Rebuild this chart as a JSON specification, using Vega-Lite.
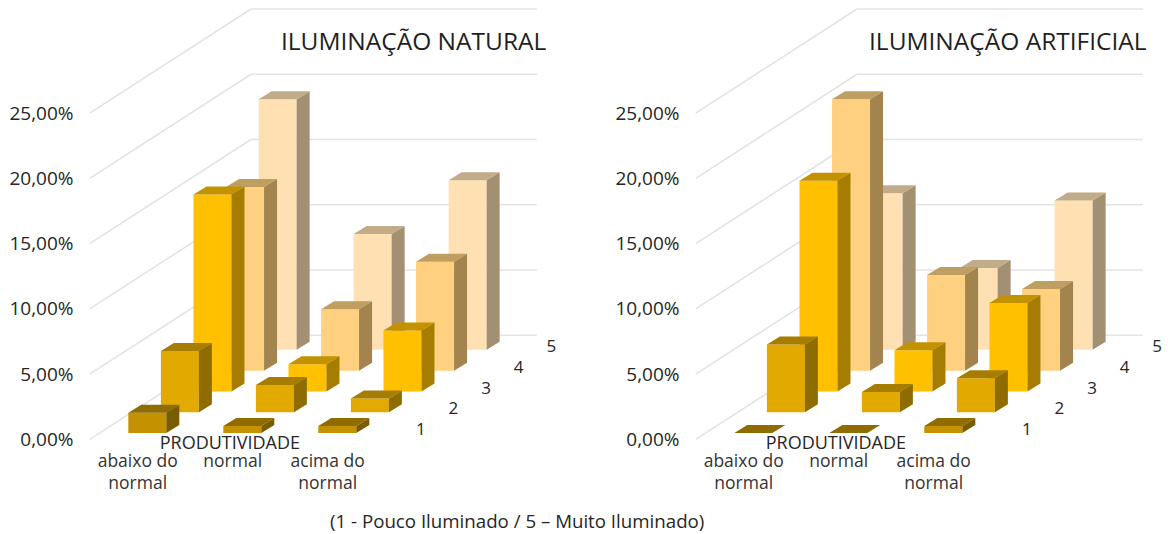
{"$schema":"https://vega.github.io/schema/vega-lite/v6.json","background":"white","padding":{"left":8,"top":0,"right":0,"bottom":0},"spacing":0,"bounds":"flush","config":{"view":{"stroke":null},"text":{"font":"Open Sans"},"axis":{"labelFont":"Open Sans"}},
"datasets":{
"barras":[
{"painel":"natural","produtividade":"abaixo do normal","nivel":5,"valor":19.2},{"painel":"natural","produtividade":"normal","nivel":5,"valor":8.87},{"painel":"natural","produtividade":"acima do normal","nivel":5,"valor":13.0},
{"painel":"natural","produtividade":"abaixo do normal","nivel":4,"valor":14.07},{"painel":"natural","produtividade":"normal","nivel":4,"valor":4.7},{"painel":"natural","produtividade":"acima do normal","nivel":4,"valor":8.35},
{"painel":"natural","produtividade":"abaixo do normal","nivel":3,"valor":15.1},{"painel":"natural","produtividade":"normal","nivel":3,"valor":2.08},{"painel":"natural","produtividade":"acima do normal","nivel":3,"valor":4.68},
{"painel":"natural","produtividade":"abaixo do normal","nivel":2,"valor":4.69},{"painel":"natural","produtividade":"normal","nivel":2,"valor":2.08},{"painel":"natural","produtividade":"acima do normal","nivel":2,"valor":1.06},
{"painel":"natural","produtividade":"abaixo do normal","nivel":1,"valor":1.55},{"painel":"natural","produtividade":"normal","nivel":1,"valor":0.54},{"painel":"natural","produtividade":"acima do normal","nivel":1,"valor":0.54},
{"painel":"artificial","produtividade":"abaixo do normal","nivel":5,"valor":12.0},{"painel":"artificial","produtividade":"normal","nivel":5,"valor":6.27},{"painel":"artificial","produtividade":"acima do normal","nivel":5,"valor":11.45},
{"painel":"artificial","produtividade":"abaixo do normal","nivel":4,"valor":20.8},{"painel":"artificial","produtividade":"normal","nivel":4,"valor":7.33},{"painel":"artificial","produtividade":"acima do normal","nivel":4,"valor":6.25},
{"painel":"artificial","produtividade":"abaixo do normal","nivel":3,"valor":16.15},{"painel":"artificial","produtividade":"normal","nivel":3,"valor":3.15},{"painel":"artificial","produtividade":"acima do normal","nivel":3,"valor":6.77},
{"painel":"artificial","produtividade":"abaixo do normal","nivel":2,"valor":5.2},{"painel":"artificial","produtividade":"normal","nivel":2,"valor":1.55},{"painel":"artificial","produtividade":"acima do normal","nivel":2,"valor":2.6},
{"painel":"artificial","produtividade":"abaixo do normal","nivel":1,"valor":0.0},{"painel":"artificial","produtividade":"normal","nivel":1,"valor":0.0},{"painel":"artificial","produtividade":"acima do normal","nivel":1,"valor":0.55}
],
"grade":[{"tick":0},{"tick":5},{"tick":10},{"tick":15},{"tick":20},{"tick":25}],
"niveis":[{"nivel":1},{"nivel":2},{"nivel":3},{"nivel":4},{"nivel":5}],
"categorias":[{"ordem":0,"rotulo":"abaixo do\nnormal"},{"ordem":1,"rotulo":"normal"},{"ordem":2,"rotulo":"acima do\nnormal"}]
},
"hconcat":[
{"width":606,"height":534,"layer":[
{"data":{"name":"grade"},"transform":[{"calculate":"datum.tick+7.97","as":"topo"}],"mark":{"type":"rule","color":"#e3e3e3","strokeWidth":1.5},"encoding":{"x":{"datum":0.134,"type":"quantitative","scale":{"domain":[0,6.379],"nice":false,"zero":false},"axis":null},"x2":{"datum":1.832},"y":{"field":"tick","type":"quantitative","scale":{"domain":[-7.26,33.66],"nice":false,"zero":false},"axis":{"values":[0,5,10,15,20,25],"domain":false,"ticks":false,"grid":false,"title":null,"labelFontSize":19,"labelColor":"#262626","labelPadding":4,"labelExpr":"replace(format(datum.value,'.2f'),'.',',')+'%'"}},"y2":{"field":"topo"}}},
{"data":{"name":"grade"},"transform":[{"calculate":"datum.tick+7.97","as":"topo"}],"mark":{"type":"rule","color":"#e3e3e3","strokeWidth":1.5},"encoding":{"x":{"datum":1.832,"type":"quantitative","scale":{"domain":[0,6.379],"nice":false,"zero":false}},"x2":{"datum":4.84},"y":{"field":"topo","type":"quantitative","scale":{"domain":[-7.26,33.66],"nice":false,"zero":false}}}},
{"data":{"name":"barras"},"transform":[{"filter":"datum.painel==='natural'"},{"calculate":"indexof(['abaixo do normal','normal','acima do normal'],datum.produtividade)","as":"col"},{"calculate":"0.54+datum.col+0.343*(datum.nivel-1)","as":"xb"},{"calculate":"0.475+1.594*(datum.nivel-1)","as":"yb"},{"calculate":"[0,1,2,3,4,5,6,7,8,9,10,11]","as":"v"},{"flatten":["v"]},{"calculate":"floor(datum.v/4)","as":"face"},{"calculate":"datum.v%4","as":"canto"},{"calculate":"datum.xb+[[0,0.4,0.4,0],[0.4,0.537,0.537,0.4],[0,0.4,0.537,0.137]][datum.face][datum.canto]","as":"xp"},{"calculate":"datum.yb+[[0,0,datum.valor,datum.valor],[0,0.613,datum.valor+0.613,datum.valor],[datum.valor,datum.valor,datum.valor+0.613,datum.valor+0.613]][datum.face][datum.canto]","as":"yp"},{"calculate":"datum.nivel+'-'+datum.face","as":"tom"},{"calculate":"datum.col+'-'+datum.nivel+'-'+datum.face","as":"grupo"}],"mark":{"type":"line","strokeWidth":0},"encoding":{"x":{"field":"xp","type":"quantitative","scale":{"domain":[0,6.379],"nice":false,"zero":false}},"y":{"field":"yp","type":"quantitative","scale":{"domain":[-7.26,33.66],"nice":false,"zero":false}},"detail":{"field":"grupo"},"order":{"field":"v"},"fill":{"field":"tom","type":"nominal","legend":null,"scale":{"domain":["1-0","1-1","1-2","2-0","2-1","2-2","3-0","3-1","3-2","4-0","4-1","4-2","5-0","5-1","5-2"],"range":["#c49200","#7a5c00","#8f6c00","#e2aa00","#8f6c00","#a67d00","#ffc000","#a67d00","#c29200","#ffd080","#a3844f","#bf9e62","#ffe0b3","#a38f72","#c2ab88"]}}}},
{"data":{"name":"niveis"},"transform":[{"calculate":"3.62+0.343*(datum.nivel-1)","as":"xt"},{"calculate":"0.7+1.594*(datum.nivel-1)","as":"yt"}],"mark":{"type":"text","fontSize":17,"color":"#262626"},"encoding":{"x":{"field":"xt","type":"quantitative","scale":{"domain":[0,6.379],"nice":false,"zero":false}},"y":{"field":"yt","type":"quantitative","scale":{"domain":[-7.26,33.66],"nice":false,"zero":false}},"text":{"field":"nivel"}}},
{"data":{"name":"categorias"},"transform":[{"calculate":"0.639+datum.ordem","as":"xt"}],"mark":{"type":"text","fontSize":17.5,"color":"#333333","lineBreak":"\n","lineHeight":21.5,"baseline":"top","align":"center"},"encoding":{"x":{"field":"xt","type":"quantitative","scale":{"domain":[0,6.379],"nice":false,"zero":false}},"y":{"datum":-1.06,"type":"quantitative","scale":{"domain":[-7.26,33.66],"nice":false,"zero":false}},"text":{"field":"rotulo"}}},
{"data":{"values":[{"t":"PRODUTIVIDADE"}]},"mark":{"type":"text","fontSize":18,"color":"#262626"},"encoding":{"x":{"datum":1.609,"type":"quantitative","scale":{"domain":[0,6.379],"nice":false,"zero":false}},"y":{"datum":-0.34,"type":"quantitative","scale":{"domain":[-7.26,33.66],"nice":false,"zero":false}},"text":{"field":"t"}}},
{"data":{"values":[{"t":"ILUMINAÇÃO NATURAL"}]},"mark":{"type":"text","fontSize":24.5,"color":"#1f1f1f","align":"left"},"encoding":{"x":{"datum":2.147,"type":"quantitative","scale":{"domain":[0,6.379],"nice":false,"zero":false}},"y":{"datum":30.36,"type":"quantitative","scale":{"domain":[-7.26,33.66],"nice":false,"zero":false}},"text":{"field":"t"}}},
{"data":{"values":[{"t":"(1 - Pouco Iluminado / 5 – Muito Iluminado)"}]},"mark":{"type":"text","fontSize":18.7,"color":"#262626","align":"left"},"encoding":{"x":{"datum":2.663,"type":"quantitative","scale":{"domain":[0,6.379],"nice":false,"zero":false}},"y":{"datum":-6.34,"type":"quantitative","scale":{"domain":[-7.26,33.66],"nice":false,"zero":false}},"text":{"field":"t"}}}
]},
{"width":484,"height":534,"layer":[
{"data":{"name":"grade"},"transform":[{"calculate":"datum.tick+7.97","as":"topo"}],"mark":{"type":"rule","color":"#e3e3e3","strokeWidth":1.5},"encoding":{"x":{"datum":0.134,"type":"quantitative","scale":{"domain":[0,5.095],"nice":false,"zero":false},"axis":null},"x2":{"datum":1.832},"y":{"field":"tick","type":"quantitative","scale":{"domain":[-7.26,33.66],"nice":false,"zero":false},"axis":{"values":[0,5,10,15,20,25],"domain":false,"ticks":false,"grid":false,"title":null,"labelFontSize":19,"labelColor":"#262626","labelPadding":4,"labelExpr":"replace(format(datum.value,'.2f'),'.',',')+'%'"}},"y2":{"field":"topo"}}},
{"data":{"name":"grade"},"transform":[{"calculate":"datum.tick+7.97","as":"topo"}],"mark":{"type":"rule","color":"#e3e3e3","strokeWidth":1.5},"encoding":{"x":{"datum":1.832,"type":"quantitative","scale":{"domain":[0,5.095],"nice":false,"zero":false}},"x2":{"datum":4.84},"y":{"field":"topo","type":"quantitative","scale":{"domain":[-7.26,33.66],"nice":false,"zero":false}}}},
{"data":{"name":"barras"},"transform":[{"filter":"datum.painel==='artificial'"},{"calculate":"indexof(['abaixo do normal','normal','acima do normal'],datum.produtividade)","as":"col"},{"calculate":"0.54+datum.col+0.343*(datum.nivel-1)","as":"xb"},{"calculate":"0.475+1.594*(datum.nivel-1)","as":"yb"},{"calculate":"[0,1,2,3,4,5,6,7,8,9,10,11]","as":"v"},{"flatten":["v"]},{"calculate":"floor(datum.v/4)","as":"face"},{"calculate":"datum.v%4","as":"canto"},{"calculate":"datum.xb+[[0,0.4,0.4,0],[0.4,0.537,0.537,0.4],[0,0.4,0.537,0.137]][datum.face][datum.canto]","as":"xp"},{"calculate":"datum.yb+[[0,0,datum.valor,datum.valor],[0,0.613,datum.valor+0.613,datum.valor],[datum.valor,datum.valor,datum.valor+0.613,datum.valor+0.613]][datum.face][datum.canto]","as":"yp"},{"calculate":"datum.nivel+'-'+datum.face","as":"tom"},{"calculate":"datum.col+'-'+datum.nivel+'-'+datum.face","as":"grupo"}],"mark":{"type":"line","strokeWidth":0},"encoding":{"x":{"field":"xp","type":"quantitative","scale":{"domain":[0,5.095],"nice":false,"zero":false}},"y":{"field":"yp","type":"quantitative","scale":{"domain":[-7.26,33.66],"nice":false,"zero":false}},"detail":{"field":"grupo"},"order":{"field":"v"},"fill":{"field":"tom","type":"nominal","legend":null,"scale":{"domain":["1-0","1-1","1-2","2-0","2-1","2-2","3-0","3-1","3-2","4-0","4-1","4-2","5-0","5-1","5-2"],"range":["#c49200","#7a5c00","#8f6c00","#e2aa00","#8f6c00","#a67d00","#ffc000","#a67d00","#c29200","#ffd080","#a3844f","#bf9e62","#ffe0b3","#a38f72","#c2ab88"]}}}},
{"data":{"name":"niveis"},"transform":[{"calculate":"3.62+0.343*(datum.nivel-1)","as":"xt"},{"calculate":"0.7+1.594*(datum.nivel-1)","as":"yt"}],"mark":{"type":"text","fontSize":17,"color":"#262626"},"encoding":{"x":{"field":"xt","type":"quantitative","scale":{"domain":[0,5.095],"nice":false,"zero":false}},"y":{"field":"yt","type":"quantitative","scale":{"domain":[-7.26,33.66],"nice":false,"zero":false}},"text":{"field":"nivel"}}},
{"data":{"name":"categorias"},"transform":[{"calculate":"0.639+datum.ordem","as":"xt"}],"mark":{"type":"text","fontSize":17.5,"color":"#333333","lineBreak":"\n","lineHeight":21.5,"baseline":"top","align":"center"},"encoding":{"x":{"field":"xt","type":"quantitative","scale":{"domain":[0,5.095],"nice":false,"zero":false}},"y":{"datum":-1.06,"type":"quantitative","scale":{"domain":[-7.26,33.66],"nice":false,"zero":false}},"text":{"field":"rotulo"}}},
{"data":{"values":[{"t":"PRODUTIVIDADE"}]},"mark":{"type":"text","fontSize":18,"color":"#262626"},"encoding":{"x":{"datum":1.609,"type":"quantitative","scale":{"domain":[0,5.095],"nice":false,"zero":false}},"y":{"datum":-0.34,"type":"quantitative","scale":{"domain":[-7.26,33.66],"nice":false,"zero":false}},"text":{"field":"t"}}},
{"data":{"values":[{"t":"ILUMINAÇÃO ARTIFICIAL"}]},"mark":{"type":"text","fontSize":24.5,"color":"#1f1f1f","align":"left"},"encoding":{"x":{"datum":1.958,"type":"quantitative","scale":{"domain":[0,5.095],"nice":false,"zero":false}},"y":{"datum":30.36,"type":"quantitative","scale":{"domain":[-7.26,33.66],"nice":false,"zero":false}},"text":{"field":"t"}}}
]}
]}
